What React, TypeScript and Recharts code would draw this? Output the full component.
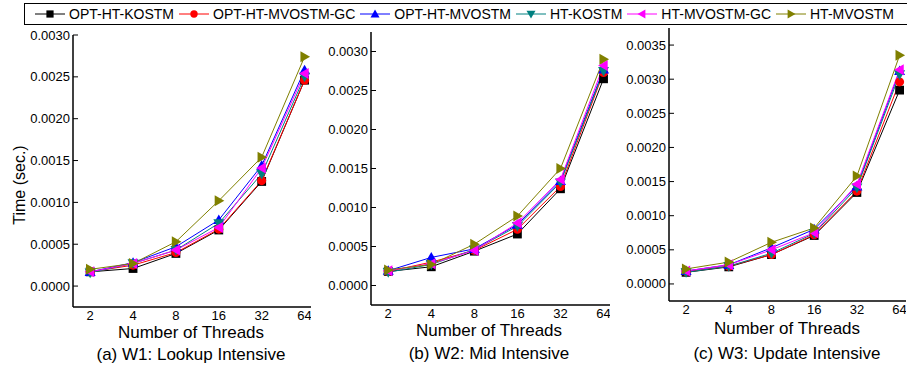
import { LineChart, Line, XAxis, YAxis } from 'recharts';

const THREADS = [2, 4, 8, 16, 32, 64];

const SERIES_NAMES = ['OPT-HT-KOSTM', 'OPT-HT-MVOSTM-GC', 'OPT-HT-MVOSTM', 'HT-KOSTM', 'HT-MVOSTM-GC', 'HT-MVOSTM'];

// W1: Lookup Intensive
const W1_OPT_HT_KOSTM = [0.00017, 0.00021, 0.00039, 0.00067, 0.00125, 0.00246];
const W1_OPT_HT_MVOSTM_GC = [0.00017, 0.00025, 0.0004, 0.00068, 0.00126, 0.00246];
const W1_OPT_HT_MVOSTM = [0.00017, 0.00028, 0.00047, 0.00079, 0.00144, 0.00258];
const W1_HT_KOSTM = [0.00016, 0.00027, 0.00043, 0.00075, 0.00134, 0.0025];
const W1_HT_MVOSTM_GC = [0.00017, 0.00027, 0.00043, 0.0007, 0.00141, 0.00254];
const W1_HT_MVOSTM = [0.0002, 0.00027, 0.00053, 0.00102, 0.00154, 0.00274];

// W2: Mid Intensive
const W2_OPT_HT_KOSTM = [0.00018, 0.00024, 0.00044, 0.00066, 0.00124, 0.00265];
const W2_OPT_HT_MVOSTM_GC = [0.00018, 0.0003, 0.00045, 0.00072, 0.00127, 0.00273];
const W2_OPT_HT_MVOSTM = [0.00019, 0.00036, 0.00047, 0.00078, 0.00134, 0.00277];
const W2_HT_KOSTM = [0.00017, 0.00027, 0.00046, 0.00076, 0.00132, 0.00275];
const W2_HT_MVOSTM_GC = [0.00019, 0.00028, 0.00045, 0.0008, 0.00136, 0.00282];
const W2_HT_MVOSTM = [0.0002, 0.00027, 0.00053, 0.00089, 0.0015, 0.0029];

// W3: Update Intensive
const W3_OPT_HT_KOSTM = [0.00017, 0.00025, 0.00043, 0.00071, 0.00134, 0.00284];
const W3_OPT_HT_MVOSTM_GC = [0.00018, 0.00026, 0.00043, 0.00072, 0.00136, 0.00296];
const W3_OPT_HT_MVOSTM = [0.00019, 0.00028, 0.00053, 0.0008, 0.00143, 0.00312];
const W3_HT_KOSTM = [0.00017, 0.00026, 0.00045, 0.00074, 0.00141, 0.00307];
const W3_HT_MVOSTM_GC = [0.00019, 0.00028, 0.0005, 0.00075, 0.00146, 0.00314];
const W3_HT_MVOSTM = [0.00022, 0.00032, 0.00061, 0.00082, 0.00158, 0.00335];

const W1_Y_TICKS = [0, 0.00025, 0.0005, 0.00075, 0.001, 0.00125, 0.0015, 0.00175, 0.002, 0.00225, 0.0025, 0.00275, 0.003];
const W2_Y_TICKS = [...W1_Y_TICKS];
const W3_Y_TICKS = [...W1_Y_TICKS, 0.00325, 0.0035];

const STYLES = [
  { color: '#000000', shape: 'square' },
  { color: '#ff0000', shape: 'circle' },
  { color: '#0000ff', shape: 'up' },
  { color: '#008080', shape: 'down' },
  { color: '#ff00ff', shape: 'left' },
  { color: '#808000', shape: 'right' },
];

const FONT = '"Liberation Sans", Arial, sans-serif';

const Marker = ({ shape, cx, cy, color, size }: any) => {
  const s = size / 2;
  if (shape === 'square') return <rect x={cx - s * 0.8} y={cy - s * 0.8} width={s * 1.6} height={s * 1.6} fill={color} />;
  if (shape === 'circle') return <circle cx={cx} cy={cy} r={s * 0.82} fill={color} />;
  let pts = '';
  if (shape === 'up') pts = `${cx},${cy - s} ${cx - s},${cy + s * 0.75} ${cx + s},${cy + s * 0.75}`;
  if (shape === 'down') pts = `${cx},${cy + s} ${cx - s},${cy - s * 0.75} ${cx + s},${cy - s * 0.75}`;
  if (shape === 'left') pts = `${cx - s},${cy} ${cx + s * 0.75},${cy - s} ${cx + s * 0.75},${cy + s}`;
  if (shape === 'right') pts = `${cx + s},${cy} ${cx - s * 0.75},${cy - s} ${cx - s * 0.75},${cy + s}`;
  return <polygon points={pts} fill={color} />;
};

const YTick = (props: any) => {
  const { x, y, payload } = props;
  const v = payload.value;
  const major = Math.round(v / 0.00025) % 2 === 0;
  const ax = x + 3;
  return (
    <g>
      <line x1={ax} x2={ax + (major ? 5 : 3)} y1={y} y2={y} stroke="#000" strokeWidth={1} />
      {major && (
        <text x={x} y={y} dy="0.35em" textAnchor="end" fontSize={13} fill="#000">
          {v.toFixed(4)}
        </text>
      )}
    </g>
  );
};

const PANELS = [
  {
    values: [W1_OPT_HT_KOSTM, W1_OPT_HT_MVOSTM_GC, W1_OPT_HT_MVOSTM, W1_HT_KOSTM, W1_HT_MVOSTM_GC, W1_HT_MVOSTM],
    yTicks: W1_Y_TICKS, yDomain: [-0.00025, 0.003],
    left: 73, right: 311, top: 35, bottom: 307,
    title: '(a) W1: Lookup Intensive', labelX: 191, labelY: 332, titleY: 354,
  },
  {
    values: [W2_OPT_HT_KOSTM, W2_OPT_HT_MVOSTM_GC, W2_OPT_HT_MVOSTM, W2_HT_KOSTM, W2_HT_MVOSTM_GC, W2_HT_MVOSTM],
    yTicks: W2_Y_TICKS, yDomain: [-0.00025, 0.00325],
    left: 371, right: 610, top: 32, bottom: 305,
    title: '(b) W2: Mid Intensive', labelX: 489, labelY: 330, titleY: 353,
  },
  {
    values: [W3_OPT_HT_KOSTM, W3_OPT_HT_MVOSTM_GC, W3_OPT_HT_MVOSTM, W3_HT_KOSTM, W3_HT_MVOSTM_GC, W3_HT_MVOSTM],
    yTicks: W3_Y_TICKS, yDomain: [-0.00025, 0.00375],
    left: 669, right: 906, top: 28, bottom: 301,
    title: '(c) W3: Update Intensive', labelX: 787, labelY: 328, titleY: 353,
  },
];

const Panel = ({ panel }: any) => {
  const data = THREADS.map((t, i) => {
    const row: any = { x: Math.log2(t) };
    panel.values.forEach((vals: number[], k: number) => { row['s' + k] = vals[i]; });
    return row;
  });
  const width = panel.right - panel.left + 70;
  const xAxisH = 20;
  return (
    <div style={{ position: 'absolute', left: panel.left - 70, top: 0 }}>
      <LineChart
        width={width}
        height={372}
        data={data}
        margin={{ top: panel.top, left: 10, right: 0, bottom: 372 - xAxisH - panel.bottom }}
      >
        <XAxis
          type="number"
          dataKey="x"
          domain={[0.6, 6.15]}
          ticks={THREADS.map((t) => Math.log2(t))}
          tickFormatter={(v) => String(2 ** v)}
          allowDataOverflow
          height={xAxisH}
          tickSize={0}
          tickLine={false}
          tickMargin={4}
          tick={{ fill: '#000', fontSize: 13 }}
          axisLine={{ stroke: '#000', strokeWidth: 1.5 }}
        />
        <YAxis
          type="number"
          domain={panel.yDomain}
          ticks={panel.yTicks}
          allowDataOverflow
          width={60}
          tickSize={0}
          tickLine={false}
          tickMargin={3}
          tick={<YTick />}
          axisLine={{ stroke: '#000', strokeWidth: 1.5 }}
        />
        {STYLES.map((st, k) => (
          <Line
            key={k}
            dataKey={'s' + k}
            name={SERIES_NAMES[k]}
            stroke={st.color}
            strokeWidth={1}
            isAnimationActive={false}
            dot={(p: any) => <Marker key={`${k}-${p.index}`} shape={st.shape} cx={p.cx} cy={p.cy} color={st.color} size={11} />}
          />
        ))}
      </LineChart>
    </div>
  );
};

const LegendBox = () => (
  <div
    style={{
      position: 'absolute', left: 24, top: 3, width: 879, height: 20,
      border: '1px solid #000', display: 'flex', alignItems: 'center',
      paddingLeft: 10, fontSize: 14, fontFamily: FONT, color: '#000',
      boxSizing: 'content-box',
    }}
  >
    {SERIES_NAMES.map((n, k) => (
      <div key={n} style={{ display: 'flex', alignItems: 'center', marginRight: 5 }}>
        <svg width={30} height={12}>
          <line x1={0} x2={30} y1={6} y2={6} stroke={STYLES[k].color} strokeWidth={1} />
          <Marker shape={STYLES[k].shape} cx={15} cy={6} color={STYLES[k].color} size={9} />
        </svg>
        <span style={{ marginLeft: 4, whiteSpace: 'nowrap' }}>{n}</span>
      </div>
    ))}
  </div>
);

export default function App() {
  return (
    <div style={{ position: 'absolute', left: 0, top: 0, width: 907, height: 372, background: '#fff', overflow: 'hidden', fontFamily: FONT }}>
      {PANELS.map((p, i) => <Panel key={i} panel={p} />)}
      <LegendBox />
      <svg width={907} height={372} style={{ position: 'absolute', left: 0, top: 0, pointerEvents: 'none' }}>
        <text x={19} y={185} transform="rotate(-90 19 185)" textAnchor="middle" dominantBaseline="central" fontSize={16} fill="#000">
          Time (sec.)
        </text>
        {PANELS.map((p, i) => (
          <g key={i}>
            <text x={p.labelX} y={p.labelY} textAnchor="middle" dominantBaseline="central" fontSize={17} fill="#000">
              Number of Threads
            </text>
            <text x={p.labelX} y={p.titleY} textAnchor="middle" dominantBaseline="central" fontSize={17} fill="#000">
              {p.title}
            </text>
          </g>
        ))}
      </svg>
    </div>
  );
}
